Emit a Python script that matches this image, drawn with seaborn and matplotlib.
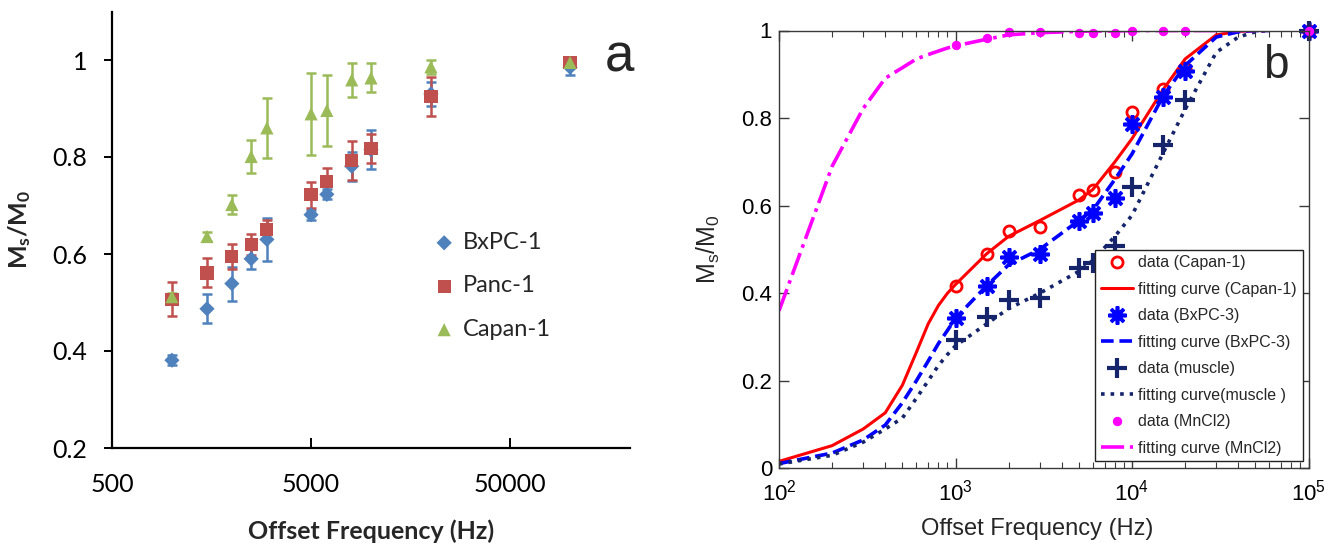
import numpy as np
import pandas as pd
import matplotlib
matplotlib.use("Agg")
import matplotlib.pyplot as plt
import matplotlib.ticker as mticker
import seaborn as sns

# =====================================
# Data - panel a (Excel style)
# =====================================
freq_a = [1000, 1500, 2000, 2500, 3000, 5000, 6000, 8000, 10000, 20000, 100000]
bxpc1 = [0.381, 0.487, 0.539, 0.590, 0.630, 0.681, 0.723, 0.781, 0.815, 0.930, 0.985]
bxpc1_err = [0.010, 0.030, 0.035, 0.020, 0.045, 0.010, 0.010, 0.030, 0.040, 0.025, 0.015]
panc1 = [0.507, 0.561, 0.595, 0.620, 0.650, 0.722, 0.750, 0.792, 0.818, 0.925, 0.994]
panc1_err = [0.035, 0.030, 0.025, 0.022, 0.020, 0.027, 0.027, 0.040, 0.030, 0.040, 0.010]
capan1 = [0.512, 0.636, 0.702, 0.801, 0.860, 0.889, 0.896, 0.959, 0.963, 0.986, 0.995]
capan1_err = [0.008, 0.010, 0.020, 0.035, 0.062, 0.085, 0.073, 0.035, 0.030, 0.015, 0.006]

# =====================================
# Data - panel b (MATLAB style)
# =====================================
freq_b = [1000, 1500, 2000, 3000, 5000, 6000, 8000, 10000, 15000, 20000, 100000]
data_capan = [0.417, 0.490, 0.543, 0.551, 0.625, 0.635, 0.676, 0.815, 0.866, 0.915, 1.0]
data_bxpc3 = [0.343, 0.417, 0.482, 0.490, 0.566, 0.584, 0.618, 0.786, 0.847, 0.908, 1.0]
data_muscle = [0.293, 0.345, 0.385, 0.388, 0.457, 0.469, 0.508, 0.643, 0.739, 0.841, 1.0]
data_mncl2 = [0.968, 0.982, 0.996, 0.996, 0.994, 0.994, 0.994, 0.999, 0.999, 0.998, 1.0]

freq_fit = [100, 200, 300, 400, 500, 600, 700, 800, 900, 1000, 1500, 2000, 3000,
            5000, 6000, 8000, 10000, 15000, 20000, 30000, 40000, 50000, 60000]
fit_capan = [0.016, 0.052, 0.090, 0.127, 0.190, 0.265, 0.330, 0.372, 0.400, 0.420, 0.490,
             0.530, 0.566, 0.613, 0.637, 0.700, 0.753, 0.865, 0.935, 0.990, 0.998, 1.0, 1.0]
fit_bxpc3 = [0.011, 0.035, 0.065, 0.099, 0.150, 0.200, 0.245, 0.285, 0.315, 0.343, 0.417,
             0.465, 0.500, 0.566, 0.590, 0.660, 0.718, 0.850, 0.920, 0.985, 0.997, 1.0, 1.0]
fit_muscle = [0.010, 0.030, 0.060, 0.090, 0.115, 0.160, 0.200, 0.235, 0.260, 0.280, 0.330,
              0.365, 0.400, 0.450, 0.475, 0.530, 0.578, 0.720, 0.820, 0.950, 0.985, 0.997, 1.0]
fit_mncl2 = [0.360, 0.690, 0.822, 0.891, 0.915, 0.935, 0.945, 0.953, 0.960, 0.965, 0.980,
             0.990, 0.995, 0.998, 0.999, 0.999, 1.0, 1.0, 1.0, 1.0, 1.0, 1.0, 1.0]

# =====================================
# Style
# =====================================
sns.set_theme(style="white")
plt.rcParams["font.family"] = ["Liberation Sans", "DejaVu Sans"]
plt.rcParams["mathtext.fontset"] = "custom"
plt.rcParams["mathtext.rm"] = "Liberation Sans"
plt.rcParams["mathtext.it"] = "Liberation Sans:italic"
plt.rcParams["mathtext.bf"] = "Lato:bold"

W, H = 1329, 546
fig = plt.figure(figsize=(W / 100, H / 100), dpi=100)
ax1 = fig.add_axes([112 / W, (H - 448) / H, 518 / W, 436.5 / H])
ax2 = fig.add_axes([779 / W, (H - 468.4) / H, 529.5 / W, 437.9 / H])

# =====================================
# Panel a
# =====================================
series_a = [
    ("BxPC-1", bxpc1, bxpc1_err, "#4F81BD", "D", 60),
    ("Panc-1", panc1, panc1_err, "#C0504D", "s", 90),
    ("Capan-1", capan1, capan1_err, "#9BBB59", "^", 90),
]
for name, vals, errs, col, mk, size in series_a:
    ax1.errorbar(freq_a, vals, yerr=errs, fmt="none", ecolor=col,
                 elinewidth=1.8, capsize=3.5, capthick=1.8, zorder=2)
    df = pd.DataFrame({"freq": freq_a, "ratio": vals})
    sns.scatterplot(data=df, x="freq", y="ratio", ax=ax1, color=col,
                    marker=mk, s=size, edgecolor="none", label=name, zorder=3)

ax1.set_xscale("log")
ax1.set_xlim(500, 2.0e5)
ax1.set_ylim(0.2, 1.1)
ax1.xaxis.set_major_locator(mticker.FixedLocator([500, 5000, 50000]))
ax1.xaxis.set_major_formatter(mticker.FixedFormatter(["500", "5000", "50000"]))
ax1.xaxis.set_minor_locator(mticker.NullLocator())
ax1.set_yticks([0.2, 0.4, 0.6, 0.8, 1.0])
ax1.set_yticklabels(["0.2", "0.4", "0.6", "0.8", "1"])
for side in ["top", "right"]:
    ax1.spines[side].set_visible(False)
for side in ["left", "bottom"]:
    ax1.spines[side].set_color("black")
    ax1.spines[side].set_linewidth(1.6)
ax1.tick_params(axis="x", direction="in", length=7, width=1.4, pad=18,
                labelsize=18, bottom=True, colors="black")
ax1.tick_params(axis="y", direction="out", length=6, width=1.4, pad=12,
                labelsize=18, left=True, colors="black")
for lab in ax1.get_xticklabels() + ax1.get_yticklabels():
    lab.set_fontfamily("Lato")

ax1.set_xlabel("Offset Frequency (Hz)", fontsize=18, fontweight="bold",
               fontfamily="Lato", va="center")
ax1.xaxis.set_label_coords(0.5, -0.19)
ax1.set_ylabel(r"$\mathbf{M_s/M_0}$", fontsize=18, va="center", ha="center")
ax1.yaxis.set_label_coords(-0.178, 0.5)

leg1 = ax1.legend(loc="upper left", bbox_to_anchor=(430 / W, (H - 232) / H),
                  bbox_transform=fig.transFigure, frameon=False,
                  prop={"family": "Lato", "size": 17},
                  labelspacing=0.95, handletextpad=0.2, handlelength=1.2,
                  borderaxespad=0, borderpad=0)

fig.text(619 / W, (H - 72) / H, "a", fontsize=38, ha="center", va="baseline")

# =====================================
# Panel b
# =====================================
red = "#FF0000"
blue = "#0000FF"
navy = "#15246B"
magenta = "#FF00FF"

sns.lineplot(x=freq_b, y=data_capan, ax=ax2, color=red, linestyle="none",
             marker="o", markersize=8, markerfacecolor="none", clip_on=False,
             markeredgecolor=red, markeredgewidth=2, label="data (Capan-1)")
sns.lineplot(x=freq_fit, y=fit_capan, ax=ax2, color=red, linewidth=2.2,
             label="fitting curve (Capan-1)")
sns.lineplot(x=freq_b, y=data_bxpc3, ax=ax2, color=blue, linestyle="none",
             marker=(8, 2, 0), markersize=13, markeredgecolor=blue, clip_on=False,
             markeredgewidth=2.6, label="data (BxPC-3)")
sns.lineplot(x=freq_fit, y=fit_bxpc3, ax=ax2, color=blue, linewidth=2.6,
             dashes=(3.5, 1.6), label="fitting curve (BxPC-3)")
sns.lineplot(x=freq_b, y=data_muscle, ax=ax2, color=navy, linestyle="none",
             marker="+", markersize=14, markeredgecolor=navy, clip_on=False,
             markeredgewidth=3, label="data (muscle)")
sns.lineplot(x=freq_fit, y=fit_muscle, ax=ax2, color=navy, linewidth=2.6,
             linestyle=":", label="fitting curve(muscle )")
sns.lineplot(x=freq_b, y=data_mncl2, ax=ax2, color=magenta, linestyle="none",
             marker="o", markersize=6, markeredgecolor=magenta, clip_on=False,
             markerfacecolor=magenta, label="data (MnCl2)")
sns.lineplot(x=freq_fit, y=fit_mncl2, ax=ax2, color=magenta, linewidth=2.6,
             linestyle="-.", label="fitting curve (MnCl2)")

ax2.set_xscale("log")
ax2.set_xlim(100, 1e5)
ax2.set_ylim(0, 1)
ax2.xaxis.set_major_locator(mticker.LogLocator(base=10, numticks=10))
ax2.xaxis.set_minor_locator(mticker.LogLocator(base=10, subs=np.arange(2, 10), numticks=10))
ax2.set_yticks([0, 0.2, 0.4, 0.6, 0.8, 1.0])
ax2.set_yticklabels(["0", "0.2", "0.4", "0.6", "0.8", "1"])
for side in ax2.spines.values():
    side.set_color("#3a3a3a")
    side.set_linewidth(1.0)
ax2.tick_params(axis="both", which="both", direction="in", top=True, right=True,
                bottom=True, left=True, colors="#3a3a3a", labelcolor="black")
ax2.tick_params(axis="both", which="major", length=7, width=1.0, labelsize=16)
ax2.tick_params(axis="x", which="minor", length=4, width=0.8)
ax2.tick_params(axis="y", which="major", pad=5)
ax2.tick_params(axis="x", which="major", pad=8)

ax2.set_xlabel("Offset Frequency (Hz)", fontsize=17, va="center")
ax2.xaxis.set_label_coords(0.488, -0.138)
ax2.set_ylabel(r"M$_\mathrm{s}$/M$_\mathrm{0}$", fontsize=18, va="center", ha="center")
ax2.yaxis.set_label_coords(-0.134, 0.5)

leg2 = ax2.legend(loc="lower right", bbox_to_anchor=(1302.5 / W, (H - 461.4) / H),
                  bbox_transform=fig.transFigure, fontsize=11.5, frameon=True,
                  fancybox=False, edgecolor="#222222", framealpha=1,
                  labelspacing=0.72, handlelength=2.0, handletextpad=0.35,
                  borderpad=0.35, borderaxespad=0)
leg2.get_frame().set_linewidth(1.0)

fig.text(1276 / W, (H - 77.6) / H, "b", fontsize=33, ha="center", va="baseline")

fig.savefig("out.png", dpi=100)
